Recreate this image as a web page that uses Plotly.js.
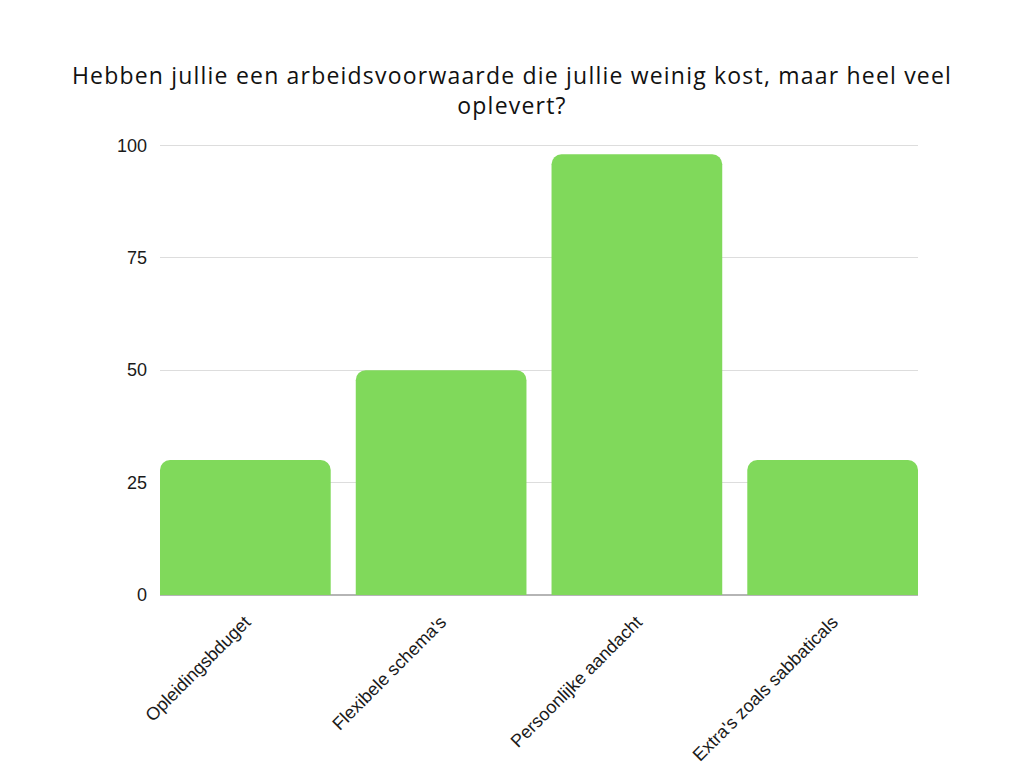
<!DOCTYPE html>
<html>
<head>
<meta charset="utf-8">
<script src="https://cdn.plot.ly/plotly-3.0.1.min.js"></script>
<style>
  html, body { margin: 0; padding: 0; background: #fff; }
  #chart { width: 1024px; height: 768px; }
  .gtitle { letter-spacing: 1.2px; }
</style>
</head>
<body>
<div id="chart"></div>
<script>
// categories and values
const categories = ['Opleidingsbduget', "Flexibele schema's", 'Persoonlijke aandacht', "Extra's zoals sabbaticals"];
const values = [30, 50, 98, 30];
const yTicks = [0, 25, 50, 75, 100];

const trace = {
    type: 'bar',
    x: categories,
    y: values,
    marker: { color: '#80d95b', cornerradius: 10 },
    hoverinfo: 'none'
};

const layout = {
    width: 1024,
    height: 768,
    margin: { l: 160, r: 106, t: 144, b: 173 },
    paper_bgcolor: '#ffffff',
    plot_bgcolor: '#ffffff',
    bargap: 0.128,
    showlegend: false,
    title: {
        text: 'Hebben jullie een arbeidsvoorwaarde die jullie weinig kost, maar heel veel<br>oplevert?',
        font: { family: 'Open Sans, sans-serif', size: 23, color: '#111111', weight: 500 },
        x: 0.5,
        xanchor: 'center',
        xref: 'container',
        yref: 'container',
        y: 0.89,
        yanchor: 'middle'
    },
    xaxis: {
        type: 'category',
        range: [-0.436, 3.436],
        tickangle: -45,
        tickfont: { family: 'Liberation Sans, Arial, sans-serif', size: 18, color: '#1a1a1a' },
        showgrid: false,
        showline: false,
        ticks: '',
        zeroline: false,
        ticklabelstandoff: 12
    },
    yaxis: {
        range: [0, 100.3],
        tickvals: yTicks,
        ticktext: yTicks.map(String),
        tickfont: { family: 'Liberation Sans, Arial, sans-serif', size: 18, color: '#1a1a1a' },
        gridcolor: '#dddddd',
        gridwidth: 1,
        zeroline: true,
        zerolinecolor: '#b5b5b5',
        zerolinewidth: 2,
        showline: false,
        ticks: '',
        ticklabelstandoff: 12
    }
};

Plotly.newPlot('chart', [trace], layout, { displayModeBar: false, staticPlot: true });
</script>
</body>
</html>
